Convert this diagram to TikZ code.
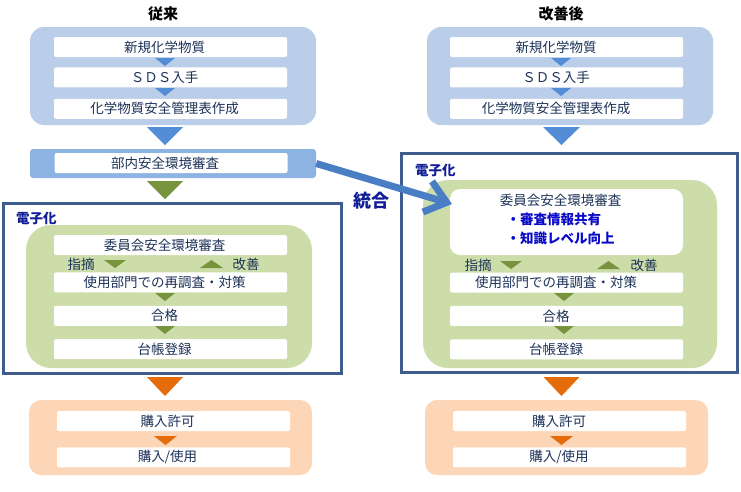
\documentclass[tikz,border=0pt]{standalone}
\usepackage{fontspec}
\setmainfont{Noto Sans CJK JP}
\usetikzlibrary{positioning,arrows.meta}

\definecolor{panelblue}{RGB}{186,205,233}
\definecolor{deptblue}{RGB}{141,179,226}
\definecolor{triblue}{RGB}{83,141,213}
\definecolor{panelgreen}{RGB}{204,221,170}
\definecolor{trigreen}{RGB}{119,147,60}
\definecolor{panelorange}{RGB}{252,214,182}
\definecolor{triorange}{RGB}{228,108,10}
\definecolor{framecol}{RGB}{62,92,140}
\definecolor{textcol}{RGB}{28,50,88}
\definecolor{tagblue}{RGB}{16,30,150}
\definecolor{pointblue}{RGB}{10,10,200}
\definecolor{arrowblue}{RGB}{74,126,196}

% triangle: centre x, top y, half width, height, colour
\newcommand{\flowtri}[5]{\fill[#5] (#1-#3,#2) -- (#1+#3,#2) -- (#1,#2+#4) -- cycle;}

\begin{document}
\begin{tikzpicture}[x=1pt,y=-1pt,
                    every node/.style={text=textcol,font=\fontsize{13.5}{16}\selectfont},
                    stepbox/.style={fill=white,rounded corners=2pt,minimum width=233pt,
                                    minimum height=20pt,inner sep=0pt,
                                    execute at begin node={\hspace*{-12pt}}},
                    rstepbox/.style={stepbox,execute at begin node={\hspace*{-9pt}}},
                    title/.style={text=black,font=\fontsize{15}{18}\selectfont\bfseries},
                    tag/.style={text=tagblue,font=\fontsize{13.5}{16}\selectfont\bfseries,
                                anchor=west,inner sep=0pt},
                    note/.style={inner sep=0pt},
                    frame/.style={draw=framecol,line width=3pt},
                    mergearrow/.style={draw=arrowblue,line width=7pt,
                                       -{Straight Barb[length=20pt,width=32pt]}}]

  \useasboundingbox (0,0) rectangle (741,491);

  % 従来
  \node[title] (oldtitle) at (163,14) {従来};
  \fill[panelblue,rounded corners=14pt] (30,27) rectangle (316,125);
  \node[stepbox] (a1) at (170.5,47) {新規化学物質};
  \node[stepbox] (a2) [below=10pt of a1] {ＳＤＳ入手};
  \node[stepbox] (a3) [below=11pt of a2] {化学物質安全管理表作成};
  \flowtri{165}{58}{10}{8}{triblue}
  \flowtri{165}{88}{10}{8}{triblue}
  \flowtri{165}{127}{18}{18}{triblue}

  \node[fill=deptblue,rounded corners=3pt,minimum width=286pt,minimum height=29pt,
        inner sep=0pt] (dept) at (173,163.5) {};
  \node[stepbox] (a4) at (171,163) {部内安全環境審査};
  \flowtri{165}{181}{18}{18}{trigreen}

  \draw[frame] (3,203) rectangle (341,373);
  \node[tag] (oldtag) at (16,218) {電子化};
  \fill[panelgreen,rounded corners=25pt] (26,225) rectangle (312,368);
  \node[stepbox] (b1) at (170.5,245) {委員会安全環境審査};
  \node[stepbox] (b2) [below=17pt of b1] {使用部門での再調査・対策};
  \node[stepbox] (b3) [below=13pt of b2] {合格};
  \node[stepbox] (b4) [below=13pt of b3] {台帳登録};
  \node[note] (oldpoint) at (81,264) {指摘};
  \node[note] (oldfix) at (246,264) {改善};
  \flowtri{115}{260}{11}{8}{trigreen}
  \flowtri{211.5}{268}{11.5}{-8}{trigreen}
  \flowtri{165}{293}{10}{8}{trigreen}
  \flowtri{165}{326}{10}{8}{trigreen}

  \flowtri{165}{377}{18}{19}{triorange}
  \fill[panelorange,rounded corners=12pt] (29,400) rectangle (312,475);
  \node[stepbox] (c1) at (173.5,421) {購入許可};
  \node[stepbox] (c2) [below=16pt of c1] {購入/使用};
  \flowtri{165.5}{436}{11.5}{9}{triorange}

  % 改善後
  \node[title] (newtitle) at (561,14) {改善後};
  \fill[panelblue,rounded corners=14pt] (427,27) rectangle (713,125);
  \node[rstepbox] (d1) at (566.5,47) {新規化学物質};
  \node[rstepbox] (d2) [below=10pt of d1] {ＳＤＳ入手};
  \node[rstepbox] (d3) [below=11pt of d2] {化学物質安全管理表作成};
  \flowtri{561}{58}{10}{8}{triblue}
  \flowtri{561}{88}{10}{8}{triblue}
  \flowtri{561.5}{127}{18.5}{18}{triblue}

  \draw[frame] (401,153) rectangle (737,372);
  \node[tag] (newtag) at (415,170) {電子化};
  \fill[panelgreen,rounded corners=25pt] (423,180) rectangle (717,368);
  \node[stepbox,minimum height=66pt,rounded corners=10pt,align=center,
        font=\fontsize{13.5}{19}\selectfont,execute at begin node={}] (e1) at (566.5,222)
       {委員会安全環境審査\\
        \begin{tabular}[t]{@{}l@{}}
          \textcolor{pointblue}{\bfseries ・審査情報共有}\\
          \textcolor{pointblue}{\bfseries ・知識レベル向上}
        \end{tabular}};
  \node[rstepbox] (e2) at (566.5,282.5) {使用部門での再調査・対策};
  \node[rstepbox] (e3) [below=13pt of e2] {合格};
  \node[rstepbox] (e4) [below=13pt of e3] {台帳登録};
  \node[note] (newpoint) at (478,265) {指摘};
  \node[note] (newfix) at (644,265) {改善};
  \flowtri{511}{261}{11}{8}{trigreen}
  \flowtri{608.5}{269}{11.5}{-8}{trigreen}
  \flowtri{564}{293}{10}{8}{trigreen}
  \flowtri{564}{326}{10}{8}{trigreen}

  \flowtri{561.5}{377}{18}{19}{triorange}
  \fill[panelorange,rounded corners=12pt] (425,400) rectangle (708,475);
  \node[rstepbox] (f1) at (569.5,421) {購入許可};
  \node[rstepbox] (f2) [below=16pt of f1] {購入/使用};
  \flowtri{561.5}{436}{11.5}{9}{triorange}

  % 統合
  \coordinate (mergetip) at (452,204);
  \draw[mergearrow] (dept.east) -- (mergetip);
  \node[text=tagblue,font=\fontsize{18}{20}\selectfont\bfseries] (merge) at (371,201) {統合};
\end{tikzpicture}
\end{document}
